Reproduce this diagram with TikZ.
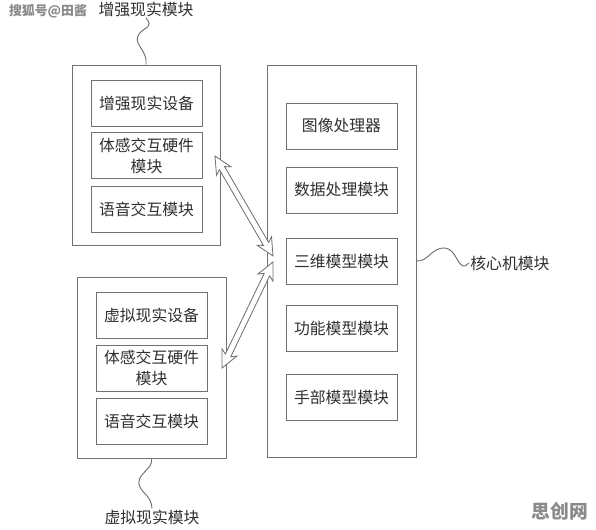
\documentclass[tikz,border=0pt]{standalone}
\usepackage{fontspec}
\newfontfamily\cjk{Noto Sans CJK SC}
\usetikzlibrary{calc,positioning}
\definecolor{linegray}{HTML}{707070}
\definecolor{textgray}{HTML}{303030}
\definecolor{markgray}{HTML}{8A8A8A}

\tikzset{
	modbox/.style={draw=linegray, line width=0.8pt, minimum width=3.33cm, minimum height=1.38cm,
		inner sep=0pt, align=center, text=textgray, font=\cjk\fontsize{13.5}{18}\selectfont},
	outerbox/.style={draw=linegray, line width=0.8pt, inner sep=0pt},
	tag/.style={text=textgray, inner sep=1pt, font=\cjk\fontsize{13.5}{15}\selectfont},
	squiggle/.style={draw=linegray, line width=0.8pt},
	watermark/.style={text=markgray, inner sep=0pt, font=\cjk\bfseries},
}

% hollow double arrow between two named coordinates
\newcommand{\hollowarrow}[2]{%
	\filldraw[fill=white, draw=linegray, line width=0.7pt, line join=miter]
		(#1) -- ($(#1)!0.52cm!(#2)!0.25cm!90:(#2)$) -- ($(#1)!0.42cm!(#2)!0.09cm!90:(#2)$)
		-- ($(#2)!0.42cm!(#1)!0.09cm!-90:(#1)$) -- ($(#2)!0.52cm!(#1)!0.25cm!-90:(#1)$)
		-- (#2) -- ($(#2)!0.52cm!(#1)!0.25cm!90:(#1)$) -- ($(#2)!0.42cm!(#1)!0.09cm!90:(#1)$)
		-- ($(#1)!0.42cm!(#2)!0.09cm!-90:(#2)$) -- ($(#1)!0.52cm!(#2)!0.25cm!-90:(#2)$) -- cycle;}

\begin{document}
\begin{tikzpicture}[x=0.03cm, y=-0.03cm]
	\useasboundingbox[fill=white] (0,0) rectangle (596,529);
	%%%%% outer modules
	\node[outerbox, minimum width=4.44cm, minimum height=5.4cm] (ar) at (146,155) {};
	\node[outerbox, minimum width=4.47cm, minimum height=5.43cm] (vr) at (151.5,367.5) {};
	\node[outerbox, minimum width=4.47cm, minimum height=11.76cm] (core) at (341.5,261) {};
	%%%%% augmented reality
	\node[modbox] (arDev) at (146.5,103.5) {增强现实设备};
	\node[modbox] (arHw)  at (146.5,155.5) {体感交互硬件\\模块};
	\node[modbox] (arVoc) at (146.5,209) {语音交互模块};
	%%%%% virtual reality
	\node[modbox] (vrDev) at (151.5,315.5) {虚拟现实设备};
	\node[modbox] (vrHw)  at (151.5,368) {体感交互硬件\\模块};
	\node[modbox] (vrVoc) at (151.5,421) {语音交互模块};
	%%%%% core
	\node[modbox] (img)  at (341.5,126) {图像处理器};
	\node[modbox] (data) at (341.5,190) {数据处理模块};
	\node[modbox] (tri)  at (341.5,261) {三维模型模块};
	\node[modbox] (func) at (341.5,328.5) {功能模型模块};
	\node[modbox] (hand) at (341.5,397) {手部模型模块};
	%%%%% labels
	\node[tag] (arTag) at (146,9) {增强现实模块};
	\draw[squiggle] (ar.north) .. controls (148,50) and (132,44) .. (139,34)
		.. controls (145,26) and (154,28) .. (arTag.south);
	\node[tag] (vrTag) at (152,517) {虚拟现实模块};
	\draw[squiggle] (vr.south) .. controls (154,470) and (134,474) .. (140,487)
		.. controls (144,495) and (151,496) .. (vrTag.north);
	\node[tag, anchor=west] (coreTag) at (469,263) {核心机模块};
	\draw[squiggle] (core.east) .. controls (428,262) and (432,247) .. (445,248)
		.. controls (456,249) and (458,268) .. (465,266) -- (coreTag.west);
	%%%%% arrows
	\coordinate (arTip) at (215,156);
	\coordinate (coreTipA) at (273,256);
	\coordinate (coreTipB) at (273,262);
	\coordinate (vrTip) at (222,368);
	\hollowarrow{arTip}{coreTipA}
	\hollowarrow{coreTipB}{vrTip}
	%%%%% marks
	\node[watermark, font=\cjk\bfseries\fontsize{11}{13}\selectfont] (markA) at (48,11) {搜狐号@田酱};
	\node[watermark, font=\cjk\bfseries\fontsize{16}{18}\selectfont] (markB) at (560,511) {思创网};
\end{tikzpicture}
\end{document}
